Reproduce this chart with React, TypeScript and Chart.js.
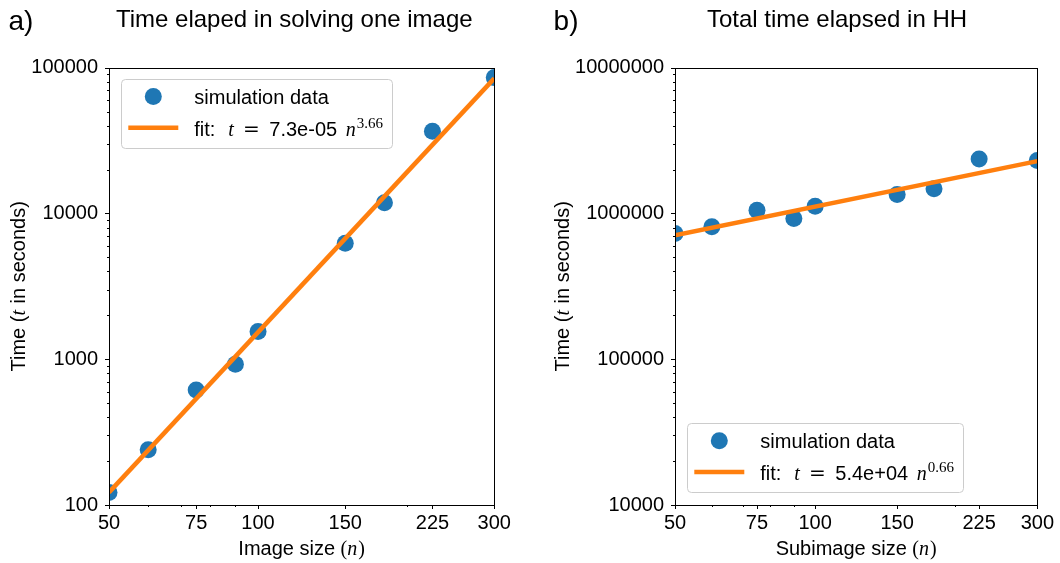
import React, { useEffect, useRef } from "react";
import { Chart, registerables } from "chart.js";
Chart.register(...registerables);

// ---------- data ----------
const imageSizes = [50, 60, 75, 90, 100, 150, 180, 225, 300];
const imageTimes = [122, 239, 616, 924, 1549, 6246, 11830, 36600, 85500];
const imageFitSizes = [50, 300];
const imageFitTimes = [122, 84500];
const imageFitCoef = "7.3e-05";
const imageFitExp = "3.66";

const subSizes = [50, 60, 75, 90, 100, 150, 180, 225, 300];
const subTimes = [730000, 811000, 1054000, 924000, 1122000, 1348000, 1480000, 2360000, 2310000];
const subFitSizes = [50, 300];
const subFitTimes = [708000, 2285000];
const subFitCoef = "5.4e+04";
const subFitExp = "0.66";

const xMajorTicks = [50, 75, 100, 150, 225, 300];
const xMinorTicks = [60, 70, 80, 90, 200];
const yTicksA = [100, 1000, 10000, 100000];
const yTicksB = [10000, 100000, 1000000, 10000000];

const SANS = '"Liberation Sans", Arial, sans-serif';
const SERIF = '"Liberation Serif", "Times New Roman", serif';
const EQ_FONT = '"DejaVu Serif", "Liberation Serif", serif';
const BLUE = "#1f77b4";
const ORANGE = "#ff7f0e";

type PanelCfg = {
  offsetX: number;
  letter: string;
  letterX: number;
  title: string;
  titleCx: number;
  xLabel: string;
  yW: number;
  padRight: number;
  yTicks: number[];
  xs: number[];
  ys: number[];
  fitX: number[];
  fitY: number[];
  coef: string;
  exp: string;
  legendPos: "tl" | "bl";
  yTitleX: number;
};

const panels: PanelCfg[] = [
  {
    offsetX: 0,
    letter: "a)",
    letterX: 8.4,
    title: "Time elaped in solving one image",
    titleCx: 294.3,
    xLabel: "Image size ",
    yW: 109,
    padRight: 35.7,
    yTicks: yTicksA,
    xs: imageSizes,
    ys: imageTimes,
    fitX: imageFitSizes,
    fitY: imageFitTimes,
    coef: imageFitCoef,
    exp: imageFitExp,
    legendPos: "tl",
    yTitleX: 24.5,
  },
  {
    offsetX: 530,
    letter: "b)",
    letterX: 23.6,
    title: "Total time elapsed in HH",
    titleCx: 307,
    xLabel: "Subimage size ",
    yW: 145,
    padRight: 21,
    yTicks: yTicksB,
    xs: subSizes,
    ys: subTimes,
    fitX: subFitSizes,
    fitY: subFitTimes,
    coef: subFitCoef,
    exp: subFitExp,
    legendPos: "bl",
    yTitleX: 39,
  },
];

function makeDecorPlugin(cfg: PanelCfg) {
  return {
    id: "decor",
    afterDraw(chart: any) {
      const ctx: CanvasRenderingContext2D = chart.ctx;
      const xs = chart.scales.x;
      const ys = chart.scales.y;
      const { left, right, top, bottom } = chart.chartArea;
      ctx.save();
      ctx.strokeStyle = "#000";
      ctx.lineWidth = 1;
      // tick marks
      const drawX = (v: number, len: number) => {
        const p = Math.round(xs.getPixelForValue(v)) + 0.5;
        ctx.beginPath();
        ctx.moveTo(p, bottom);
        ctx.lineTo(p, bottom + len);
        ctx.stroke();
      };
      xMajorTicks.forEach((v) => drawX(v, 4));
      xMinorTicks.forEach((v) => drawX(v, 2));
      const drawY = (v: number, len: number) => {
        const p = Math.round(ys.getPixelForValue(v)) + 0.5;
        ctx.beginPath();
        ctx.moveTo(left - len, p);
        ctx.lineTo(left, p);
        ctx.stroke();
      };
      cfg.yTicks.forEach((d, i) => {
        drawY(d, 4);
        if (i < cfg.yTicks.length - 1) {
          for (let k = 2; k <= 9; k++) drawY(d * k, 2);
        }
      });
      // spines
      ctx.strokeRect(Math.round(left) + 0.5, Math.round(top) + 0.5, Math.round(right - left), Math.round(bottom - top));

      ctx.fillStyle = "#000";
      ctx.textBaseline = "alphabetic";
      // panel letter
      ctx.font = `28px ${SANS}`;
      ctx.textAlign = "left";
      ctx.fillText(cfg.letter, cfg.letterX, 30);
      // title
      ctx.font = `24px ${SANS}`;
      ctx.textAlign = "center";
      ctx.fillText(cfg.title, cfg.titleCx, 27);

      // x axis title
      ctx.textAlign = "left";
      const cx = (left + right) / 2;
      ctx.font = `20px ${SANS}`;
      const w1 = ctx.measureText(cfg.xLabel).width;
      ctx.font = `20px ${SERIF}`;
      const wp = ctx.measureText("(").width;
      ctx.font = `italic 20px ${SERIF}`;
      const wn = ctx.measureText("n").width;
      const total = w1 + wp * 2 + wn + 1;
      let x0 = cx - total / 2;
      const by = 555;
      ctx.font = `20px ${SANS}`;
      ctx.fillText(cfg.xLabel, x0, by);
      x0 += w1;
      ctx.font = `20px ${SERIF}`;
      ctx.fillText("(", x0, by);
      x0 += wp;
      ctx.font = `italic 20px ${SERIF}`;
      ctx.fillText("n", x0, by);
      x0 += wn + 1;
      ctx.font = `20px ${SERIF}`;
      ctx.fillText(")", x0, by);

      // y axis title (rotated)
      ctx.save();
      const cy = (top + bottom) / 2;
      ctx.translate(cfg.yTitleX, cy);
      ctx.rotate(-Math.PI / 2);
      ctx.font = `20px ${SANS}`;
      const a1 = "Time (";
      const a3 = " in seconds)";
      const wa1 = ctx.measureText(a1).width;
      const wa3 = ctx.measureText(a3).width;
      ctx.font = `italic 20px ${SERIF}`;
      const wt = ctx.measureText("t").width + 1;
      let ty = -(wa1 + wt + wa3) / 2;
      ctx.font = `20px ${SANS}`;
      ctx.fillText(a1, ty, 0);
      ty += wa1;
      ctx.font = `italic 20px ${SERIF}`;
      ctx.fillText("t", ty, 0);
      ty += wt;
      ctx.font = `20px ${SANS}`;
      ctx.fillText(a3, ty, 0);
      ctx.restore();

      // legend
      ctx.font = `20px ${SANS}`;
      const coefW = ctx.measureText(cfg.coef).width;
      ctx.font = `italic 20px ${SERIF}`;
      const nW = ctx.measureText("n").width;
      ctx.font = `15px ${SERIF}`;
      const expW = ctx.measureText(cfg.exp).width;
      const line2W = 75 + coefW + 8.5 + nW + 1 + expW;
      ctx.font = `20px ${SANS}`;
      const line1W = ctx.measureText("simulation data").width;
      const boxW = 73.3 + Math.max(line1W, line2W) + 9;
      const boxH = 69;
      const bx = left + 12;
      const byTop = cfg.legendPos === "tl" ? top + 11.3 : bottom - 12.7 - boxH;
      ctx.beginPath();
      ctx.roundRect(Math.round(bx) + 0.5, Math.round(byTop) + 0.5, Math.round(boxW), boxH, 4);
      ctx.fillStyle = "rgba(255,255,255,0.8)";
      ctx.fill();
      ctx.strokeStyle = "#cccccc";
      ctx.stroke();
      // marker
      ctx.fillStyle = BLUE;
      ctx.beginPath();
      ctx.arc(bx + 32.3, byTop + 17.4, 8.5, 0, Math.PI * 2);
      ctx.fill();
      // line sample
      ctx.strokeStyle = ORANGE;
      ctx.lineWidth = 4.5;
      ctx.beginPath();
      ctx.moveTo(bx + 7.3, byTop + 48.7);
      ctx.lineTo(bx + 57.3, byTop + 48.7);
      ctx.stroke();
      // texts
      ctx.fillStyle = "#000";
      const tx = bx + 73.3;
      const b1 = byTop + 25;
      const b2 = byTop + 56.7;
      ctx.font = `20px ${SANS}`;
      ctx.fillText("simulation data", tx, b1);
      ctx.fillText("fit:", tx, b2);
      ctx.font = `italic 20px ${SERIF}`;
      ctx.fillText("t", tx + 34, b2);
      ctx.font = `20px ${EQ_FONT}`;
      const eqW = ctx.measureText("=").width;
      ctx.fillText("=", tx + 57 - eqW / 2, b2);
      ctx.font = `20px ${SANS}`;
      ctx.fillText(cfg.coef, tx + 75, b2);
      const nx = tx + 75 + coefW + 8.5;
      ctx.font = `italic 20px ${SERIF}`;
      ctx.fillText("n", nx, b2);
      ctx.font = `15px ${SERIF}`;
      ctx.fillText(cfg.exp, nx + nW + 1, b2 - 8);
      ctx.restore();
    },
  };
}

function Panel({ cfg }: { cfg: PanelCfg }) {
  const ref = useRef<HTMLCanvasElement>(null);
  useEffect(() => {
    if (!ref.current) return;
    const yMin = cfg.yTicks[0];
    const yMax = cfg.yTicks[cfg.yTicks.length - 1];
    const chart = new Chart(ref.current, {
      type: "scatter",
      data: {
        datasets: [
          {
            type: "line",
            label: "fit",
            data: cfg.fitX.map((x, i) => ({ x, y: cfg.fitY[i] })),
            borderColor: ORANGE,
            borderWidth: 4.5,
            pointRadius: 0,
            fill: false,
            tension: 0,
            clip: 0,
            order: 0,
          } as any,
          {
            type: "scatter",
            label: "simulation data",
            data: cfg.xs.map((x, i) => ({ x, y: cfg.ys[i] })),
            backgroundColor: BLUE,
            borderWidth: 0,
            pointRadius: 8.5,
            pointHoverRadius: 8.5,
            clip: 0,
            order: 1,
          } as any,
        ],
      },
      options: {
        responsive: false,
        animation: false,
        devicePixelRatio: 1,
        events: [],
        layout: {
          autoPadding: false,
          padding: { left: 0, right: cfg.padRight, top: 67.7, bottom: 0 },
        },
        plugins: {
          legend: { display: false },
          tooltip: { enabled: false },
          title: { display: false },
        },
        scales: {
          x: {
            type: "logarithmic",
            position: "bottom",
            min: 50,
            max: 300,
            afterBuildTicks: (s: any) => {
              s.ticks = xMajorTicks.map((v) => ({ value: v }));
            },
            afterFit: (s: any) => {
              s.height = 58;
            },
            ticks: {
              autoSkip: false,
              maxRotation: 0,
              minRotation: 0,
              padding: 6,
              color: "#000",
              font: { family: SANS, size: 20 },
              callback: (v: any) => String(v),
            },
            grid: { display: false, drawTicks: false },
            border: { display: false },
          },
          y: {
            type: "logarithmic",
            position: "left",
            min: yMin,
            max: yMax,
            afterBuildTicks: (s: any) => {
              s.ticks = cfg.yTicks.map((v) => ({ value: v }));
            },
            afterFit: (s: any) => {
              s.width = cfg.yW;
            },
            ticks: {
              autoSkip: false,
              padding: 11,
              color: "#000",
              font: { family: SANS, size: 20 },
              callback: (v: any) => String(v),
            },
            grid: { display: false, drawTicks: false },
            border: { display: false },
          },
        },
      } as any,
      plugins: [makeDecorPlugin(cfg)],
    });
    return () => chart.destroy();
  }, [cfg]);
  return (
    <canvas
      ref={ref}
      width={530}
      height={563}
      style={{ position: "absolute", left: cfg.offsetX, top: 0, width: 530, height: 563 }}
    />
  );
}

export default function App() {
  return (
    <div style={{ position: "absolute", left: 0, top: 0, width: 1060, height: 563, background: "#fff", overflow: "hidden" }}>
      {panels.map((p) => (
        <Panel key={p.letter} cfg={p} />
      ))}
    </div>
  );
}
